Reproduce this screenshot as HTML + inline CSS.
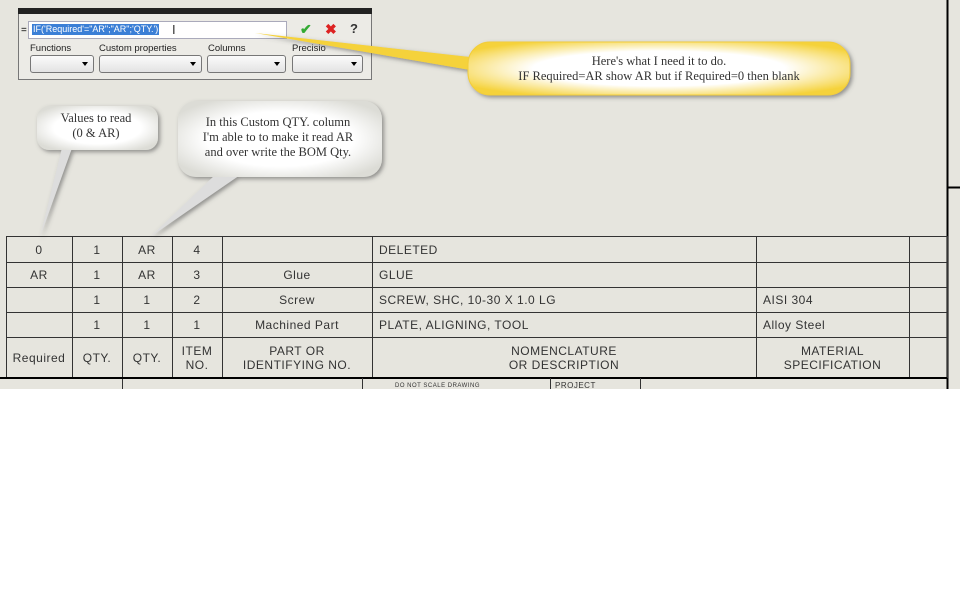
<!DOCTYPE html>
<html><head><style>
body{margin:0;width:960px;height:590px;background:#fff;position:relative;overflow:hidden;font-family:"Liberation Sans",sans-serif}
.bg{position:absolute;left:0;top:0;width:960px;height:389px;background:#e6e5de}
.a{position:absolute}
.t{position:absolute;font-size:12px;color:#333;white-space:nowrap;letter-spacing:0.5px}
.dd{position:absolute;top:55px;height:16px;border:1px solid #777;border-radius:3px;background:linear-gradient(#fbfbfb,#e3e3e3)}
.dd:after{content:"";position:absolute;right:5px;top:6px;border-left:3px solid transparent;border-right:3px solid transparent;border-top:4px solid #000}
.lab{position:absolute;top:43px;font-size:9.5px;color:#222}
.sf{font-family:"Liberation Serif",serif;color:#333;font-size:12.5px;text-align:center;position:absolute;line-height:15px}
</style></head><body>
<div class="bg"></div>
<!-- dialog -->
<div class="a" style="left:18px;top:8px;width:352px;height:70px;background:#ecebe6;border:1px solid #777"></div>
<div class="a" style="left:18px;top:8px;width:354px;height:6px;background:#222"></div>
<div class="a" style="left:21px;top:25px;font-size:10px">=</div>
<div class="a" style="left:28px;top:21px;width:257px;height:16px;background:#fff;border:1px solid #aab"></div>
<div class="a" style="left:32px;top:24px;height:11px;background:#3b7fd6;color:#fff;font-size:9px;line-height:11px;padding:0 1px">IF('Required'="AR";"AR";'QTY.')</div>
<div class="a" style="left:172px;top:22px;font-size:13px;color:#333">I</div>
<div class="a" style="left:300px;top:21px;font-size:14px;color:#3a3;font-weight:bold">✔</div>
<div class="a" style="left:325px;top:21px;font-size:14px;color:#d22;font-weight:bold">✖</div>
<div class="a" style="left:350px;top:21px;font-size:13px;color:#333;font-weight:bold">?</div>
<div class="lab" style="left:30px">Functions</div>
<div class="lab" style="left:99px">Custom properties</div>
<div class="lab" style="left:208px">Columns</div>
<div class="lab" style="left:292px">Precisio</div>
<div class="dd" style="left:30px;width:62px"></div>
<div class="dd" style="left:99px;width:101px"></div>
<div class="dd" style="left:207px;width:77px"></div>
<div class="dd" style="left:292px;width:69px"></div>
<svg class="a" style="left:0;top:0" width="960" height="389">
<defs><filter id="s"><feDropShadow dx="2" dy="2" stdDeviation="2" flood-color="#555" flood-opacity="0.6"/></filter>
<radialGradient id="y" cx="50%" cy="50%" r="60%"><stop offset="55%" stop-color="#fff"/><stop offset="100%" stop-color="#f5d23a"/></radialGradient>
<radialGradient id="w" cx="50%" cy="50%" r="60%"><stop offset="60%" stop-color="#fff"/><stop offset="100%" stop-color="#dcdcd6"/></radialGradient></defs>
<g filter="url(#s)">
<path d="M255,33 L470,57 L470,70 Z" fill="#f5d23a"/>
<rect x="468" y="42" width="382" height="53" rx="22" fill="url(#y)" stroke="#f2cd3a" stroke-width="1"/>
<path d="M62,148 L40,237 L72,148 Z" fill="#ddd"/>
<rect x="37" y="106" width="121" height="44" rx="12" fill="url(#w)"/>
<path d="M215,175 L150,237 L240,175 Z" fill="#ddd"/>
<rect x="178" y="101" width="204" height="76" rx="18" fill="url(#w)"/>
</g>
<g stroke="#333" stroke-width="1" fill="none">
<line x1="947.5" y1="0" x2="947.5" y2="389" stroke="#000" stroke-width="2"/>
<line x1="947" y1="187.5" x2="960" y2="187.5" stroke="#000" stroke-width="2"/>
<rect x="6.5" y="236.5" width="941" height="141"/>
<line x1="6" y1="262.5" x2="947" y2="262.5"/><line x1="6" y1="287.5" x2="947" y2="287.5"/>
<line x1="6" y1="312.5" x2="947" y2="312.5"/><line x1="6" y1="337.5" x2="947" y2="337.5"/>
<line x1="72.5" y1="236" x2="72.5" y2="378"/><line x1="122.5" y1="236" x2="122.5" y2="389"/>
<line x1="172.5" y1="236" x2="172.5" y2="378"/><line x1="222.5" y1="236" x2="222.5" y2="378"/>
<line x1="372.5" y1="236" x2="372.5" y2="378"/><line x1="756.5" y1="236" x2="756.5" y2="378"/>
<line x1="909.5" y1="236" x2="909.5" y2="378"/>
<line x1="0" y1="378" x2="947" y2="378" stroke="#000" stroke-width="2"/>
<line x1="362.5" y1="378" x2="362.5" y2="389"/><line x1="550.5" y1="378" x2="550.5" y2="389"/><line x1="640.5" y1="378" x2="640.5" y2="389"/>
</g>
</svg>
<div class="sf" style="left:468px;top:54px;width:382px">Here's what I need it to do.<br>IF Required=AR show AR but if Required=0 then blank</div>
<div class="sf" style="left:37px;top:111px;width:118px">Values to read<br>(0 &amp; AR)</div>
<div class="sf" style="left:178px;top:115px;width:200px">In this Custom QTY. column<br>I'm able to to make it read AR<br>and over write the BOM Qty.</div>
<!-- table text -->
<div class="t" style="left:6px;top:243px;width:66px;text-align:center">0</div>
<div class="t" style="left:72px;top:243px;width:50px;text-align:center">1</div>
<div class="t" style="left:122px;top:243px;width:50px;text-align:center">AR</div>
<div class="t" style="left:172px;top:243px;width:50px;text-align:center">4</div>
<div class="t" style="left:379px;top:243px">DELETED</div>
<div class="t" style="left:6px;top:268px;width:66px;text-align:center">AR</div>
<div class="t" style="left:72px;top:268px;width:50px;text-align:center">1</div>
<div class="t" style="left:122px;top:268px;width:50px;text-align:center">AR</div>
<div class="t" style="left:172px;top:268px;width:50px;text-align:center">3</div>
<div class="t" style="left:222px;top:268px;width:150px;text-align:center">Glue</div>
<div class="t" style="left:379px;top:268px">GLUE</div>
<div class="t" style="left:72px;top:293px;width:50px;text-align:center">1</div>
<div class="t" style="left:122px;top:293px;width:50px;text-align:center">1</div>
<div class="t" style="left:172px;top:293px;width:50px;text-align:center">2</div>
<div class="t" style="left:222px;top:293px;width:150px;text-align:center">Screw</div>
<div class="t" style="left:379px;top:293px">SCREW, SHC, 10-30 X 1.0 LG</div>
<div class="t" style="left:763px;top:293px">AISI 304</div>
<div class="t" style="left:72px;top:318px;width:50px;text-align:center">1</div>
<div class="t" style="left:122px;top:318px;width:50px;text-align:center">1</div>
<div class="t" style="left:172px;top:318px;width:50px;text-align:center">1</div>
<div class="t" style="left:222px;top:318px;width:150px;text-align:center">Machined Part</div>
<div class="t" style="left:379px;top:318px">PLATE, ALIGNING, TOOL</div>
<div class="t" style="left:763px;top:318px">Alloy Steel</div>
<div class="t" style="left:6px;top:351px;width:66px;text-align:center">Required</div>
<div class="t" style="left:72px;top:351px;width:50px;text-align:center">QTY.</div>
<div class="t" style="left:122px;top:351px;width:50px;text-align:center">QTY.</div>
<div class="t" style="left:172px;top:344px;width:50px;text-align:center;line-height:14px">ITEM<br>NO.</div>
<div class="t" style="left:222px;top:344px;width:150px;text-align:center;line-height:14px">PART OR<br>IDENTIFYING NO.</div>
<div class="t" style="left:372px;top:344px;width:384px;text-align:center;line-height:14px">NOMENCLATURE<br>OR DESCRIPTION</div>
<div class="t" style="left:756px;top:344px;width:153px;text-align:center;line-height:14px">MATERIAL<br>SPECIFICATION</div>
<div class="t" style="left:395px;top:383px;font-size:6px">DO NOT SCALE DRAWING</div>
<div class="t" style="left:555px;top:381px;font-size:8px">PROJECT</div>
</body></html>
